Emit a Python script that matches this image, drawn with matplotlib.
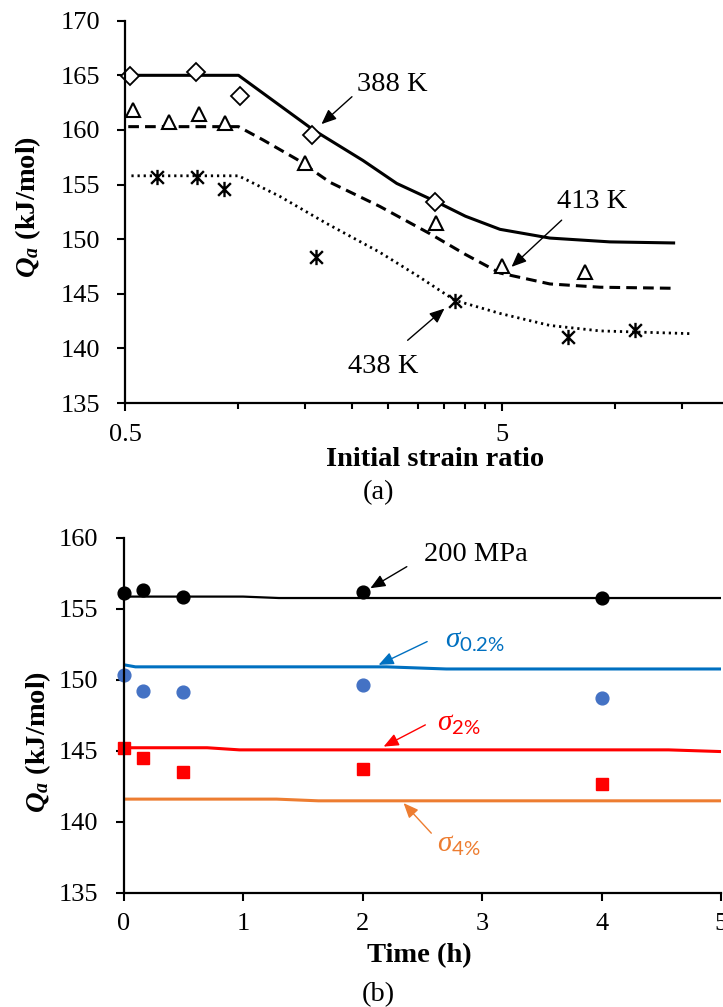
import matplotlib

matplotlib.use("Agg")
import matplotlib.pyplot as plt
from matplotlib.path import Path
from matplotlib.ticker import FixedLocator, NullFormatter

# ---- panel (a): Qa vs initial strain ratio ----
x388 = [0.515, 0.77, 1.01, 1.57, 3.32]
q388 = [164.93, 165.33, 163.13, 159.53, 153.42]
x413 = [0.526, 0.655, 0.787, 0.921, 1.50, 3.34, 5.0, 8.3]
q413 = [161.8, 160.75, 161.5, 160.6, 156.93, 151.44, 147.53, 147.0]
x438 = [0.607, 0.775, 0.915, 1.61, 3.75, 7.49, 11.26]
q438 = [155.71, 155.7, 154.55, 148.38, 144.32, 141.05, 141.66]

fit388_x = [0.51, 1.0, 1.58, 2.14, 2.63, 3.36, 4.0, 4.94, 6.7, 9.67, 14.4]
fit388_q = [165.0, 165.0, 160.0, 157.2, 155.1, 153.4, 152.1, 150.9, 150.1, 149.75, 149.65]
fit413_x = [0.51, 1.0, 1.16, 1.43, 1.75, 2.37, 3.22, 4.0, 4.94, 6.7, 9.1, 14.4]
fit413_q = [160.3, 160.3, 159.1, 157.3, 155.2, 153.0, 150.5, 148.6, 146.9, 145.9, 145.6, 145.5]
fit438_x = [0.52, 1.0, 1.29, 1.7, 2.37, 3.0, 3.75, 4.94, 6.7, 9.1, 15.8]
fit438_q = [155.8, 155.8, 153.9, 151.5, 148.8, 146.6, 144.4, 143.2, 142.1, 141.6, 141.35]

# ---- panel (b): Qa vs time ----
t_h = [0, 0.167, 0.5, 2, 4]
q200 = [156.08, 156.32, 155.8, 156.2, 155.73]
q02 = [150.33, 149.23, 149.16, 149.63, 148.69]
q2 = [145.17, 144.47, 143.52, 143.71, 142.65]

l200_t = [0, 1.0, 1.3, 5]
l200_q = [155.85, 155.85, 155.75, 155.75]
l02_t = [0, 0.1, 2.2, 2.7, 5]
l02_q = [151.05, 150.9, 150.9, 150.75, 150.75]
l2_t = [0, 0.7, 0.97, 4.56, 5]
l2_q = [145.2, 145.2, 145.05, 145.05, 144.93]
l4_t = [0, 1.28, 1.63, 5]
l4_q = [141.58, 141.58, 141.46, 141.46]

plt.rcParams["font.family"] = ["Liberation Serif", "DejaVu Serif"]
plt.rcParams["mathtext.fontset"] = "custom"
plt.rcParams["mathtext.rm"] = "Liberation Serif"
plt.rcParams["mathtext.it"] = "Liberation Serif:italic"
plt.rcParams["mathtext.bf"] = "Liberation Serif:bold"
plt.rcParams["mathtext.bfit"] = "Liberation Serif:italic:bold"
plt.rcParams["mathtext.sf"] = "Lato"

BLUE_L = "#0070C0"
BLUE_M = "#4472C4"
RED = "#FF0000"
ORANGE = "#ED7D31"

W, H = 723, 1007
fig = plt.figure(figsize=(W / 100, H / 100), dpi=100)


def px_axes(left, top, right, bottom):
    return fig.add_axes([left / W, 1 - bottom / H, (right - left) / W, (bottom - top) / H])


def style_axes(ax):
    for s in ("top", "right"):
        ax.spines[s].set_visible(False)
    for s in ("left", "bottom"):
        ax.spines[s].set_linewidth(1.6)
    ax.tick_params(which="major", direction="out", length=6, width=1.5, labelsize=19, pad=9)
    ax.tick_params(which="minor", direction="out", length=4.5, width=1.5)
    ax.tick_params(axis="y", pad=12)


def arrow(ax, tail, tip, color="black"):
    ax.annotate("", xy=tip, xytext=tail,
                arrowprops=dict(arrowstyle="-|>,head_length=0.9,head_width=0.38",
                                color=color, lw=1.0, shrinkA=0, shrinkB=0,
                                mutation_scale=10))


star = Path([(-1, -1), (1, 1), (-1, 1), (1, -1), (0, -1.2), (0, 1.2)],
            [Path.MOVETO, Path.LINETO, Path.MOVETO, Path.LINETO, Path.MOVETO, Path.LINETO])

# panel (a)
axa = px_axes(125, 20.7, 723, 403)
axa.set_xscale("log")
axa.set_xlim(0.5, 19.29)
axa.set_ylim(135, 170)
axa.plot(fit388_x, fit388_q, color="black", lw=2.2, solid_capstyle="butt")
axa.plot(fit413_x, fit413_q, color="black", lw=2.2, ls=(0, (3.5, 2)))
axa.plot(fit438_x, fit438_q, color="black", lw=2.0, ls=(0, (0.8, 1.4)))
axa.plot(x388, q388, ls="none", marker="D", ms=9.2, mfc="white", mec="black", mew=1.3, clip_on=False)
axa.plot(x413, q413, ls="none", marker="^", ms=9.8, mfc="white", mec="black", mew=1.5, clip_on=False)
axa.plot(x438, q438, ls="none", marker=star, ms=11, mfc="none", mec="black", mew=1.7)
axa.xaxis.set_major_locator(FixedLocator([0.5, 5]))
axa.xaxis.set_major_formatter(plt.FixedFormatter(["0.5", "5"]))
axa.xaxis.set_minor_locator(FixedLocator([0.5 * k for k in range(2, 10)] + [5 * k for k in range(2, 4)]))
axa.xaxis.set_minor_formatter(NullFormatter())
axa.set_yticks(range(135, 171, 5))
style_axes(axa)

fig.text(435 / W, 1 - 460 / H, "Initial strain ratio", fontsize=20.5, fontweight="bold",
         ha="center", va="center")
fig.text(28 / W, 1 - 207 / H, r"$\mathbfit{Q}_{\mathbfit{a}}$ (kJ/mol)", fontsize=20.5,
         fontweight="bold", rotation=90, ha="center", va="center")
fig.text(379 / W, 1 - 493 / H, "(a)", fontsize=20.5, ha="center", va="center")

axa.text(2.56, 164.2, "388 K", fontsize=20.5, ha="center", va="center")
arrow(axa, (2.0, 163.04), (1.66, 160.53))
axa.text(8.69, 153.48, "413 K", fontsize=20.5, ha="center", va="center")
arrow(axa, (7.2, 151.74), (5.3, 147.46))
axa.text(2.42, 138.36, "438 K", fontsize=20.5, ha="center", va="center")
arrow(axa, (2.81, 140.74), (3.52, 143.65))

# panel (b)
axb = px_axes(123.5, 537.7, 721.2, 892.5)
axb.set_xlim(0, 5)
axb.set_ylim(135, 160)
axb.plot(l200_t, l200_q, color="black", lw=1.6)
axb.plot(l02_t, l02_q, color=BLUE_L, lw=2.2)
axb.plot(l2_t, l2_q, color=RED, lw=2.2)
axb.plot(l4_t, l4_q, color=ORANGE, lw=2.2)
axb.plot(t_h, q200, ls="none", marker="o", ms=9.2, color="black", clip_on=False)
axb.plot(t_h, q02, ls="none", marker="o", ms=9.2, color=BLUE_M, clip_on=False)
axb.plot(t_h, q2, ls="none", marker="s", ms=9.0, color=RED, clip_on=False)
axb.set_xticks(range(0, 6))
axb.set_yticks(range(135, 161, 5))
style_axes(axb)

fig.text(419 / W, 1 - 956 / H, "Time (h)", fontsize=20.5, fontweight="bold",
         ha="center", va="center")
fig.text(38 / W, 1 - 742 / H, r"$\mathbfit{Q}_{\mathbfit{a}}$ (kJ/mol)", fontsize=20.5,
         fontweight="bold", rotation=90, ha="center", va="center")
fig.text(378 / W, 1 - 995 / H, "(b)", fontsize=20.5, ha="center", va="center")

axb.text(2.944, 158.85, "200 MPa", fontsize=20.5, ha="center", va="center")
arrow(axb, (2.37, 157.96), (2.065, 156.44))
axb.text(2.69, 152.73, r"$\sigma_{\mathsf{0.2\%}}$", fontsize=21, color=BLUE_L, ha="left", va="center")
arrow(axb, (2.54, 152.68), (2.134, 151.04), BLUE_L)
axb.text(2.62, 146.88, r"$\sigma_{\mathsf{2\%}}$", fontsize=21, color=RED, ha="left", va="center")
arrow(axb, (2.525, 146.81), (2.176, 145.28), RED)
axb.text(2.626, 138.36, r"$\sigma_{\mathsf{4\%}}$", fontsize=21, color=ORANGE, ha="left", va="center")
arrow(axb, (2.575, 139.18), (2.343, 141.3), ORANGE)

fig.savefig("out.png", dpi=100)
